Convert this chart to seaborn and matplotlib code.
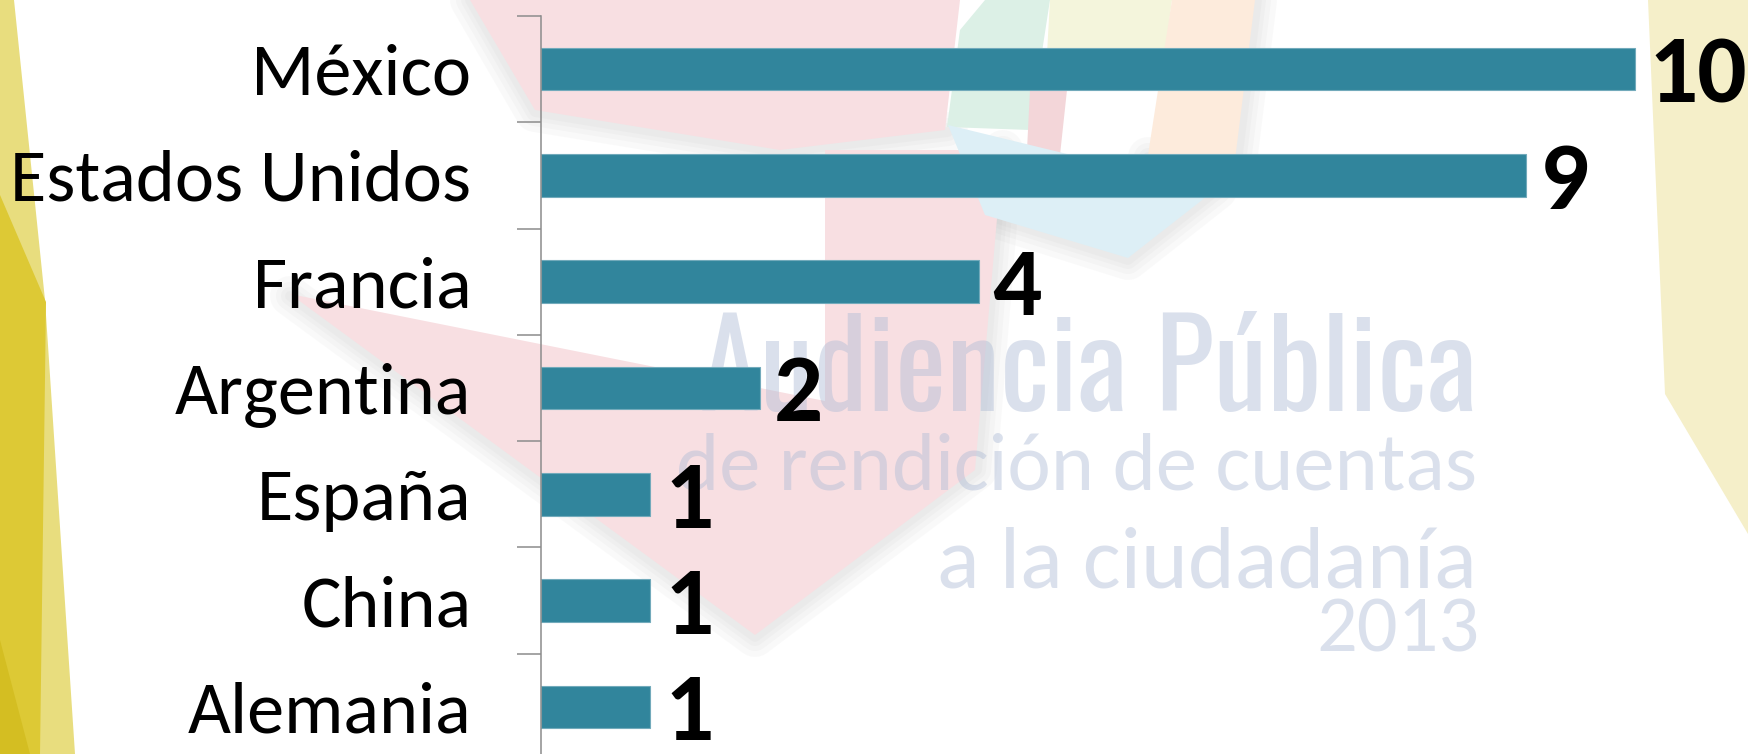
import matplotlib
matplotlib.use("Agg")
import numpy as np
import pandas as pd
import matplotlib.pyplot as plt
import seaborn as sns
from matplotlib.patches import Polygon
from matplotlib.ticker import FixedLocator

# ---------------- data ----------------
paises = ["México", "Estados Unidos", "Francia", "Argentina", "España", "China", "Alemania"]
valores = [10, 9, 4, 2, 1, 1, 1]

LABEL_FONT = ["Carlito", "Calibri", "Lato", "DejaVu Sans"]
WM_FONT = ["Oswald", "Roboto Condensed", "Archivo Narrow", "PT Sans Narrow", "DejaVu Sans"]

W, H = 1748, 754
fig = plt.figure(figsize=(W / 100, H / 100), dpi=100)
fig.patch.set_facecolor("white")

# ---------------- decorative slide background ----------------
bg = fig.add_axes([0, 0, 1, 1], zorder=0)
bg.set_xlim(0, W)
bg.set_ylim(H, 0)
bg.axis("off")

# soft shadows (drawn beneath the shapes so only the outside halo shows)
shadow_edges = [
    [(470, 0), (535, 112), (780, 152), (948, 132)],
    [(1257, 0), (1237, 162), (1148, 157)],
    [(1217, 190), (1128, 260), (985, 215)],
    [(1003, 150), (977, 470), (755, 637), (290, 296)],
]
for edge in shadow_edges:
    xs, ys = zip(*edge)
    for lw in (40, 28, 18, 10):
        bg.plot(xs, ys, color="#9A9A9A", alpha=0.05, lw=lw * 0.72,
                solid_capstyle="round", solid_joinstyle="round", zorder=0.5)

shapes = [
    # left yellow
    ([(0, 0), (14, 0), (45, 300), (75, 754), (0, 754)], "#E8DD7E"),
    ([(0, 195), (46, 302), (40, 754), (0, 754)], "#DDC935"),
    ([(0, 640), (30, 754), (0, 754)], "#D4BE22"),
    # right yellow
    ([(1648, 0), (1748, 0), (1748, 534), (1665, 394)], "#F5EFC9"),
    # pink top
    ([(470, 0), (960, 0), (945, 130), (780, 150), (535, 110)], "#F8DFE2"),
    # pink big shape
    ([(290, 294), (825, 401), (825, 150), (1003, 150), (975, 470), (755, 635)], "#F8DFE2"),
    # green
    ([(960, 30), (985, 0), (1050, 0), (1030, 130), (947, 127)], "#DCF0E6"),
    # light yellow
    ([(1050, 0), (1172, 0), (1160, 90), (1045, 90)], "#F4F5DC"),
    # pink-red strip
    ([(1030, 90), (1067, 90), (1060, 155), (1027, 150)], "#F3D6D9"),
    # peach
    ([(1172, 0), (1255, 0), (1235, 160), (1148, 155)], "#FDEBDC"),
    # light blue
    ([(948, 125), (1215, 190), (1128, 258), (985, 215)], "#DDEFF6"),
]
for pts, col in shapes:
    bg.add_patch(Polygon(pts, closed=True, facecolor=col, edgecolor="none", zorder=1))

renderer = fig.canvas.get_renderer()


def fit_text(x, y, s, target_w, family, weight, color, alpha, start=60):
    t = bg.text(x, y, s, ha="right", va="baseline", family=family,
                fontweight=weight, fontsize=start, color=color, alpha=alpha, zorder=3)
    for _ in range(3):
        w = t.get_window_extent(renderer).width
        t.set_fontsize(t.get_fontsize() * target_w / w)
    return t


fit_text(1477, 411, "Audiencia Pública", 777, WM_FONT, "bold", "#AFBCD6", 0.45, 90)
fit_text(1477, 490, "de rendición de cuentas", 800, LABEL_FONT, "normal", "#AFBCD6", 0.45, 60)
fit_text(1477, 588, "a la ciudadanía", 540, LABEL_FONT, "normal", "#AFBCD6", 0.45, 60)
fit_text(1480, 651, "2013", 163, LABEL_FONT, "normal", "#AFBCD6", 0.45, 60)

# ---------------- chart ----------------
x0 = 541
unit = 109.4
ax = fig.add_axes([x0 / W, (H - 760) / H, (W - x0) / W, 744 / H], zorder=2)
ax.set_facecolor("none")

df = pd.DataFrame({"pais": paises, "valor": valores})
sns.barplot(data=df, x="valor", y="pais", order=paises, orient="h",
            color="#31859C", saturation=1, width=0.4,
            edgecolor="#72AABB", linewidth=0.8, ax=ax)

ax.set_xlim(0, (W - x0) / unit)
ax.set_ylim(6.5, -0.5)
ax.set_xlabel("")
ax.set_ylabel("")
ax.set_xticks([])
for side in ["top", "right", "bottom"]:
    ax.spines[side].set_visible(False)
ax.spines["left"].set_color("#8C8C8C")
ax.spines["left"].set_linewidth(1.1)

ax.yaxis.set_minor_locator(FixedLocator(np.arange(-0.5, 7.0, 1.0)))
ax.tick_params(axis="y", which="minor", length=17.3, width=1.1, color="#8C8C8C")
ax.tick_params(axis="y", which="major", length=0, pad=50.2, labelsize=53.5)
for lab in ax.get_yticklabels():
    lab.set_family(LABEL_FONT)
    lab.set_color("black")

for i, v in enumerate(valores):
    ax.annotate(str(v), xy=(v, i), xytext=(10, -24), textcoords="offset points",
                ha="left", va="baseline", fontsize=70, fontweight="bold",
                family=LABEL_FONT, color="black", annotation_clip=False)

fig.savefig("out.png", dpi=100, facecolor="white")
